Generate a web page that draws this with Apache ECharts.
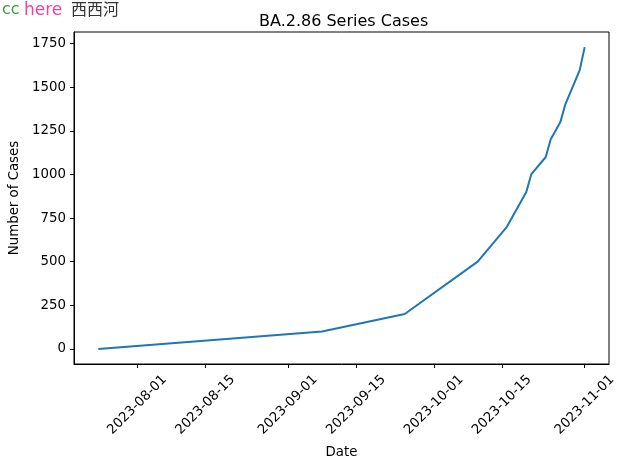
<!DOCTYPE html>
<html>
<head>
<meta charset="utf-8">
<script src="https://cdn.jsdelivr.net/npm/echarts@6/dist/echarts.min.js"></script>
<style>html,body{margin:0;padding:0;background:#fff}#c{width:628px;height:469px}</style>
</head>
<body>
<div id="c"></div>
<script>
// Data
var dates = ['2023-07-24','2023-09-08','2023-09-25','2023-10-10','2023-10-16','2023-10-20','2023-10-21','2023-10-24','2023-10-25','2023-10-27','2023-10-28','2023-10-31','2023-11-01'];
var cases = [0, 100, 200, 500, 700, 900, 1000, 1100, 1200, 1300, 1400, 1600, 1730];
var xTickLabels = ['2023-08-01','2023-08-15','2023-09-01','2023-09-15','2023-10-01','2023-10-15','2023-11-01'];
var yTickValues = [0, 250, 500, 750, 1000, 1250, 1500, 1750];

function ts(s){ var p = s.split('-'); return new Date(+p[0], +p[1]-1, +p[2]).getTime(); }
function pad(n){ return (n<10?'0':'') + n; }
function fmt(v){ var d = new Date(Math.round(v)); return d.getFullYear() + '-' + pad(d.getMonth()+1) + '-' + pad(d.getDate()); }

var xs = dates.map(ts);
var xMinD = Math.min.apply(null, xs), xMaxD = Math.max.apply(null, xs);
var xPad = (xMaxD - xMinD) * 0.05;
var yMinD = Math.min.apply(null, cases), yMaxD = Math.max.apply(null, cases);
var yPad = (yMaxD - yMinD) * 0.05;

var font = 'DejaVu Sans';
var fs = 13.33;
var chart = echarts.init(document.getElementById('c'), null, {renderer: 'canvas'});
chart.setOption({
  animation: false,
  backgroundColor: '#fff',
  title: {
    text: 'BA.2.86 Series Cases',
    left: 254, top: 9,
    textStyle: {fontFamily: font, fontSize: 16, fontWeight: 'normal', color: '#000'}
  },
  graphic: [
    {type: 'text', left: 2, top: 2, style: {text: 'cc', fill: '#3c9a3c', font: '16px "DejaVu Sans"'}},
    {type: 'text', left: 24, top: 2, style: {text: 'here', fill: '#f0449a', font: '17px "DejaVu Sans"'}},
    {type: 'text', left: 71, top: 1, style: {text: '西西河', fill: '#333', font: '16px "Noto Sans CJK SC"'}}
  ],
  grid: {left: 74, right: 19, top: 32, bottom: 105, show: true, borderColor: '#000', borderWidth: 1, containLabel: false, outerBoundsMode: 'none'},
  xAxis: {
    type: 'value',
    min: xMinD - xPad, max: xMaxD + xPad,
    name: 'Date', nameLocation: 'middle', nameGap: 82,
    nameTextStyle: {fontFamily: font, fontSize: fs, color: '#000'},
    axisLine: {show: true, onZero: false, lineStyle: {color: '#000', width: 1}},
    axisTick: {show: true, length: 4, lineStyle: {color: '#000'}, customValues: xTickLabels.map(ts)},
    axisLabel: {
      customValues: xTickLabels.map(ts), rotate: 45, align: 'center', verticalAlign: 'middle',
      margin: 41, fontFamily: font, fontSize: fs, color: '#000',
      formatter: function(v){ return fmt(v); }
    },
    splitLine: {show: false}
  },
  yAxis: {
    type: 'value',
    min: yMinD - yPad, max: yMaxD + yPad,
    name: 'Number of Cases', nameLocation: 'middle', nameGap: 51,
    nameTextStyle: {fontFamily: font, fontSize: fs, color: '#000'},
    axisLine: {show: true, onZero: false, lineStyle: {color: '#000', width: 1}},
    axisTick: {show: true, length: 4, lineStyle: {color: '#000'}, customValues: yTickValues},
    axisLabel: {customValues: yTickValues, margin: 8, fontFamily: font, fontSize: fs, color: '#000',
      formatter: function(v){ return String(Math.round(v)); }},
    splitLine: {show: false}
  },
  series: [{
    type: 'line',
    data: xs.map(function(x, i){ return [x, cases[i]]; }),
    showSymbol: false,
    lineStyle: {color: '#1f77b4', width: 2},
    itemStyle: {color: '#1f77b4'}
  }]
});
</script>
</body>
</html>
